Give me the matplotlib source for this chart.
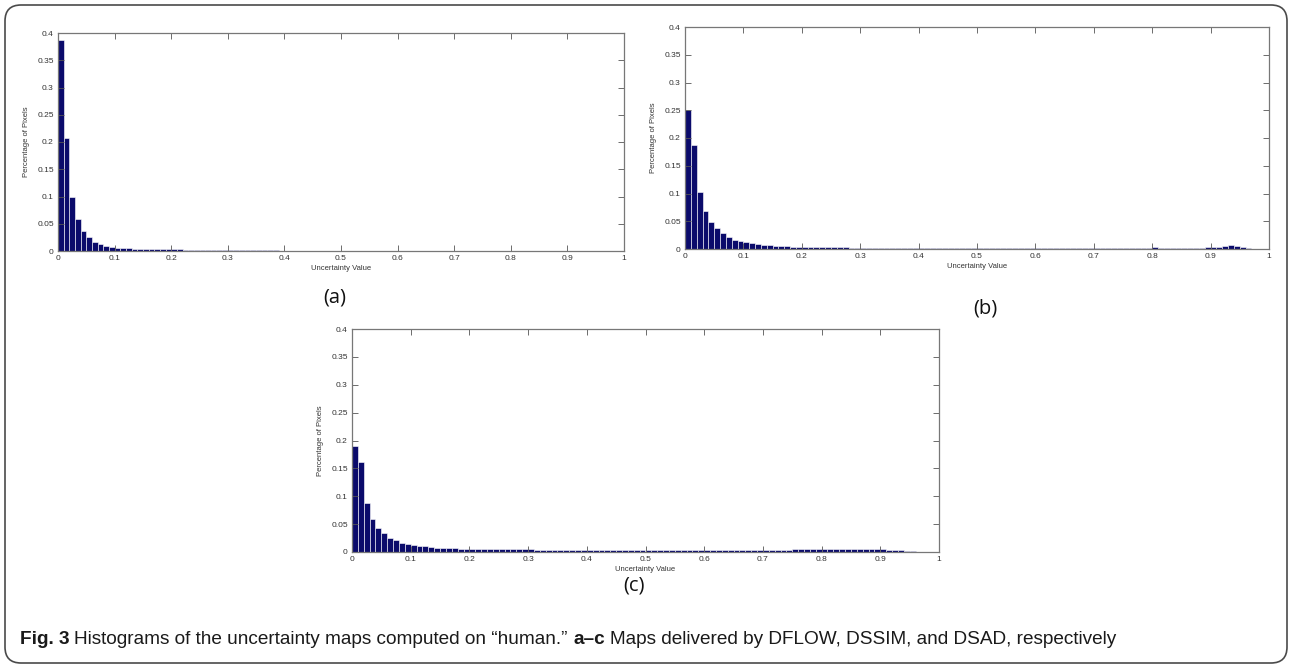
import numpy as np
import matplotlib
matplotlib.use('Agg')
import matplotlib.pyplot as plt
from matplotlib.patches import FancyBboxPatch

# histogram values, 100 bins of width 0.01 on [0, 1]
dflow = [0.388, 0.208, 0.100, 0.059, 0.037, 0.025, 0.017, 0.013, 0.010, 0.0075,
         0.0062, 0.0052, 0.0046, 0.0042, 0.0038, 0.0035, 0.0032, 0.0030, 0.0029, 0.0031,
         0.0033, 0.0029, 0.0026, 0.0024, 0.0023, 0.0022, 0.0022, 0.0021, 0.0021, 0.0020,
         0.0020, 0.0020, 0.0020, 0.0019, 0.0019, 0.0019, 0.0020, 0.0018, 0.0010, 0.0007,
         0.0005, 0.0005, 0.0004, 0.0004, 0.0004, 0.0003, 0.0003, 0.0003, 0.0003, 0.0003,
         0.0002, 0.0002, 0.0002, 0.0002, 0.0002, 0.0002, 0.0002, 0.0002, 0.0002, 0.0002,
         0.0002, 0.0002, 0.0002, 0.0002, 0.0002, 0.0002, 0.0002, 0.0002, 0.0002, 0.0002,
         0.0002, 0.0002, 0.0002, 0.0002, 0.0002, 0.0002, 0.0002, 0.0002, 0.0002, 0.0002,
         0.0002, 0.0002, 0.0002, 0.0002, 0.0002, 0.0002, 0.0002, 0.0002, 0.0002, 0.0002,
         0.0002, 0.0002, 0.0002, 0.0002, 0.0002, 0.0001, 0.0001, 0.0001, 0.0001, 0.0001]

dssim = [0.251, 0.187, 0.103, 0.069, 0.048, 0.037, 0.028, 0.022, 0.017, 0.015,
         0.0125, 0.011, 0.009, 0.008, 0.0068, 0.006, 0.0054, 0.005, 0.0045, 0.0042,
         0.0040, 0.0037, 0.0035, 0.0033, 0.0031, 0.0030, 0.0029, 0.0028, 0.0027, 0.0026,
         0.0026, 0.0025, 0.0025, 0.0024, 0.0024, 0.0023, 0.0023, 0.0023, 0.0022, 0.0022,
         0.0021, 0.0021, 0.0021, 0.0020, 0.0020, 0.0020, 0.0020, 0.0020, 0.0020, 0.0020,
         0.0020, 0.0020, 0.0020, 0.0020, 0.0020, 0.0020, 0.0020, 0.0020, 0.0020, 0.0020,
         0.0020, 0.0020, 0.0020, 0.0020, 0.0020, 0.0020, 0.0020, 0.0020, 0.0020, 0.0020,
         0.0020, 0.0020, 0.0020, 0.0020, 0.0020, 0.0020, 0.0021, 0.0021, 0.0022, 0.0024,
         0.0030, 0.0025, 0.0022, 0.0021, 0.0021, 0.0022, 0.0023, 0.0024, 0.0026, 0.0030,
         0.0035, 0.0040, 0.0050, 0.0070, 0.0060, 0.0040, 0.0015, 0.0008, 0.0005, 0.0003]

dsad = [0.190, 0.161, 0.088, 0.059, 0.043, 0.034, 0.026, 0.021, 0.017, 0.014,
        0.0125, 0.011, 0.010, 0.009, 0.008, 0.0077, 0.007, 0.0066, 0.0062, 0.0060,
        0.0058, 0.0056, 0.0054, 0.0052, 0.0050, 0.0049, 0.0048, 0.0047, 0.0046, 0.0045,
        0.0045, 0.0044, 0.0044, 0.0043, 0.0043, 0.0042, 0.0042, 0.0042, 0.0041, 0.0041,
        0.0040, 0.0040, 0.0040, 0.0040, 0.0040, 0.0040, 0.0040, 0.0040, 0.0040, 0.0040,
        0.0040, 0.0040, 0.0040, 0.0040, 0.0040, 0.0040, 0.0040, 0.0040, 0.0040, 0.0040,
        0.0040, 0.0040, 0.0040, 0.0040, 0.0040, 0.0040, 0.0040, 0.0040, 0.0040, 0.0041,
        0.0041, 0.0042, 0.0042, 0.0043, 0.0044, 0.0045, 0.0046, 0.0047, 0.0048, 0.0049,
        0.0050, 0.0050, 0.0049, 0.0048, 0.0048, 0.0049, 0.0050, 0.0048, 0.0047, 0.0046,
        0.0045, 0.0040, 0.0038, 0.0032, 0.0025, 0.0010, 0.0006, 0.0004, 0.0003, 0.0002]

xticks = [0, 0.1, 0.2, 0.3, 0.4, 0.5, 0.6, 0.7, 0.8, 0.9, 1]
xticklabels = ['0', '0.1', '0.2', '0.3', '0.4', '0.5', '0.6', '0.7', '0.8', '0.9', '1']
yticks = [0, 0.05, 0.1, 0.15, 0.2, 0.25, 0.3, 0.35, 0.4]
yticklabels = ['0', '0.05', '0.1', '0.15', '0.2', '0.25', '0.3', '0.35', '0.4']
panel_names = ['(a)', '(b)', '(c)']

W, H = 1291, 668
fig = plt.figure(figsize=(W / 100, H / 100), dpi=100)
fig.patch.set_facecolor('white')

# outer rounded frame
frame = FancyBboxPatch((0.05, 0.05), 12.82, 6.58,
                       boxstyle='round,pad=0,rounding_size=0.16',
                       transform=fig.dpi_scale_trans, fill=False,
                       edgecolor='#4a4a4a', linewidth=1.2)
fig.patches.append(frame)

# axes boxes in pixels: left, right, top, bottom
boxes = [(58, 624, 33, 251), (685, 1269, 27, 249), (352, 939, 329, 552)]
label_pos = [(335, 298), (985, 309), (634, 586)]
data = [dflow, dssim, dsad]

edges = np.linspace(0, 1, 101)
centers = (edges[:-1] + edges[1:]) / 2

for (l, r, t, b), vals in zip(boxes, data):
    ax = fig.add_axes([l / W, (H - b) / H, (r - l) / W, (b - t) / H])
    ax.bar(centers, vals, width=0.01, color='#0b0b6b', edgecolor='white', linewidth=0.4)
    ax.set_xlim(0, 1)
    ax.set_ylim(0, 0.4)
    ax.set_xticks(xticks)
    ax.set_xticklabels(xticklabels)
    ax.set_yticks(yticks)
    ax.set_yticklabels(yticklabels)
    ax.tick_params(direction='in', length=4, width=0.6, color='#555555',
                   top=True, right=True, labelsize=6, labelcolor='#333333', pad=3)
    for s in ax.spines.values():
        s.set_color('#777777')
        s.set_linewidth(0.9)
    ax.set_xlabel('Uncertainty Value', fontsize=5.5, color='#333333',
                  family='Liberation Sans', labelpad=2)
    ax.set_ylabel('Percentage of Pixels', fontsize=5.5, color='#333333',
                  family='Liberation Sans', labelpad=5)
    for lab in ax.get_xticklabels() + ax.get_yticklabels():
        lab.set_family('Liberation Sans')

for name, (px, py) in zip(panel_names, label_pos):
    fig.text(px / W, 1 - py / H, name, fontsize=14.5, family='Open Sans',
             ha='center', va='center', color='#111111')

# caption, drawn piece by piece to mix bold and regular
pieces = [('Fig. 3', 'bold'),
          ('Histograms of the uncertainty maps computed on \u201chuman.\u201d', 'normal'),
          ('a\u2013c', 'bold'),
          ('Maps delivered by DFLOW, DSSIM, and DSAD, respectively', 'normal')]
fig.canvas.draw()
renderer = fig.canvas.get_renderer()
x = 20
cap_y = 1 - 640 / H
for txt, wt in pieces:
    t = fig.text(x / W, cap_y, txt, fontsize=13.7, fontweight=wt,
                 family='Liberation Sans', ha='left', va='center', color='#1a1a1a')
    bb = t.get_window_extent(renderer)
    x = bb.x1 + 5

fig.savefig('out.png', dpi=100)
